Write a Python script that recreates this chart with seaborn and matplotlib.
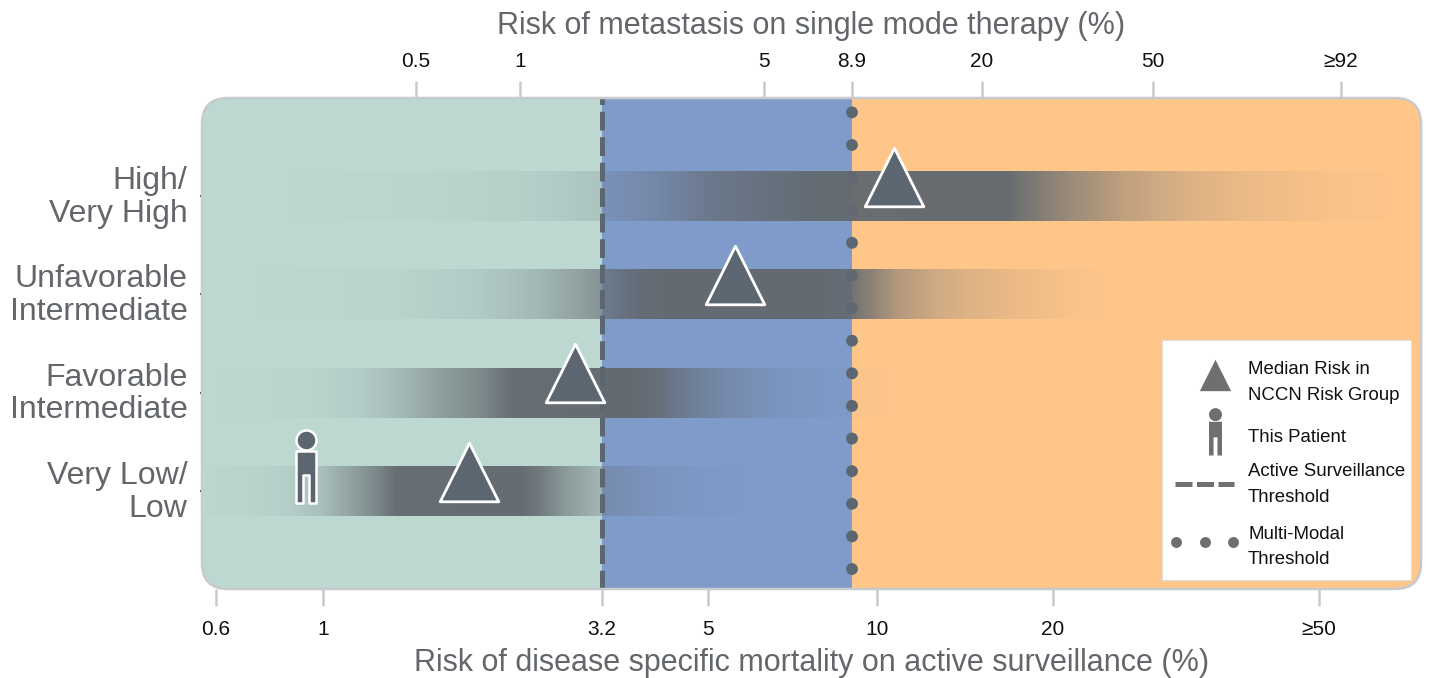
import numpy as np
import pandas as pd
import matplotlib
matplotlib.use("Agg")
import matplotlib.pyplot as plt
import seaborn as sns
from matplotlib.patches import FancyBboxPatch
from matplotlib.path import Path
from matplotlib.transforms import ScaledTranslation

# ---------- data ----------
groups = ["Very Low/\nLow", "Favorable\nIntermediate", "Unfavorable\nIntermediate", "High/\nVery High"]
median_risk = [1.84, 2.86, 5.58, 10.7]
patient_risk = 0.92
as_threshold = 3.2
mm_threshold = 9.02

bottom_ticks = [0.6, 1, 3.2, 5, 10, 20, 50]
bottom_labels = ["0.6", "1", "3.2", "5", "10", "20", "≥50"]
top_ticks = [0.5, 1, 5, 8.9, 20, 50, 92]
top_labels = ["0.5", "1", "5", "8.9", "20", "50", "≥92"]

vl_x = [0.57, 0.72, 0.86, 1.0, 1.105, 1.24, 1.36, 2.28, 2.46, 2.76, 3.17, 3.35, 4.07, 5.41, 6.53]
vl_a = [0.015, 0.04, 0.10, 0.23, 0.45, 0.70, 0.95, 0.97, 0.85, 0.55, 0.30, 0.27, 0.11, 0.03, 0.0]
fav_x = [0.59, 0.69, 0.96, 1.17, 1.36, 1.61, 1.92, 2.2, 3.69, 4.07, 4.73, 5.52, 6.66, 8.66, 11.2]
fav_a = [0.0, 0.01, 0.04, 0.11, 0.25, 0.50, 0.70, 0.95, 0.97, 0.85, 0.55, 0.30, 0.12, 0.03, 0.0]
unf_x = [0.706, 0.875, 1.32, 1.90, 2.43, 3.17, 3.68, 4.26, 7.91, 9.02, 9.71, 10.8, 12.6, 14.6, 18.3, 21.1, 24.5]
unf_a = [0.0, 0.01, 0.03, 0.12, 0.28, 0.60, 0.90, 0.97, 0.97, 0.90, 0.75, 0.50, 0.30, 0.20, 0.10, 0.04, 0.0]
high_x = [0.815, 0.98, 1.61, 2.43, 3.2, 3.92, 5.12, 7.82, 16.75, 19.8, 25.7, 31.4, 38.2, 49.9, 59.2, 67.4]
high_a = [0.0, 0.005, 0.03, 0.09, 0.18, 0.35, 0.70, 0.95, 0.97, 0.73, 0.40, 0.23, 0.13, 0.05, 0.02, 0.0]
profiles = [(vl_x, vl_a), (fav_x, fav_a), (unf_x, unf_a), (high_x, high_a)]

# ---------- style ----------
sns.set_theme(style="white")
plt.rcParams["font.family"] = ["Liberation Sans", "DejaVu Sans"]
W, H = 1430, 678
SLATE = "#5B6670"
BAND = "#62696F"
TXT = "#63676B"
GRN, BLU, ORG = "#BDD8D1", "#7F9BCA", "#FFC68A"
BORDER = "#C9CACD"

# axis scales: stretched log scales set by the tick positions of the figure
b_vals = np.log10([0.56, 0.6, 1, 3.2, 5, 10, 20, 50, 71])
b_pos = np.array([202, 216, 323, 602, 708, 877, 1053, 1319, 1421], float)
t_vals = np.log10([0.12, 0.5, 1, 5, 8.9, 20, 50, 92, 119])
t_pos = np.array([202, 416, 520, 764, 852, 982, 1153, 1341, 1421], float)


def make_scale(v, p):
    def fwd(x):
        return np.interp(np.log10(np.clip(x, 1e-6, None)), v, p)

    def inv(y):
        return 10 ** np.interp(y, p, v)

    return fwd, inv


fig = plt.figure(figsize=(W / 100, H / 100), dpi=100, facecolor="white")
ax = fig.add_axes([202 / W, (H - 589) / H, 1219 / W, 491 / H])
ax.set_facecolor("none")
ax.set_xscale("function", functions=make_scale(b_vals, b_pos))
ax.set_xlim(0.56, 71)
ax.set_ylim(-1, 4)

box = FancyBboxPatch((0, 0), 1, 1, boxstyle="round,pad=0,rounding_size=%f" % (26 / 1219),
                     mutation_aspect=1219 / 491, transform=ax.transAxes,
                     facecolor="none", edgecolor="none")
ax.add_patch(box)
for lo, hi, c in [(0.56, as_threshold, GRN), (as_threshold, mm_threshold, BLU), (mm_threshold, 71, ORG)]:
    sp = ax.axvspan(lo, hi, color=c, lw=0, zorder=0)
    sp.set_clip_path(box)

# multi-modal threshold dots sit under the gradient bands
ax.plot([mm_threshold, mm_threshold], [-1, 4], color=SLATE, lw=8.6, zorder=1,
        linestyle=(1.06, (0.001, 2.73)), dash_capstyle="round", clip_on=False)

# gradient bands
edges = np.geomspace(0.56, 71, 900)
mids = np.sqrt(edges[:-1] * edges[1:])
rgb = matplotlib.colors.to_rgb(BAND)
for row, (sx, sa) in enumerate(profiles):
    al = np.interp(np.log10(mids), np.log10(sx), sa, left=0, right=0)
    rgba = np.zeros((1, len(mids), 4))
    rgba[..., :3] = rgb
    rgba[..., 3] = al
    ax.pcolormesh(edges, [row - 0.255, row + 0.255], rgba, zorder=2, antialiased=False,
                  linewidth=0, edgecolor="none")

# active-surveillance threshold
ax.plot([as_threshold, as_threshold], [-1, 4], color=SLATE, lw=3.6, zorder=3,
        linestyle=(5.1, (3.75, 1.35)), dash_capstyle="butt")

# medians and patient
df = pd.DataFrame({"risk": median_risk, "row": np.arange(4) + 0.195})
sns.scatterplot(data=df, x="risk", y="row", marker="^", s=1780, color=SLATE, edgecolor="white",
                linewidth=2.0, ax=ax, zorder=4, legend=False)
head = Path.circle((0, 26), 10)
body = Path([(-10, 15), (10, 15), (10, -37), (3, -37), (3, -9), (-3, -9), (-3, -37), (-10, -37), (-10, 15)],
            [Path.MOVETO] + [Path.LINETO] * 7 + [Path.CLOSEPOLY])
person = Path.make_compound_path(head, body)
ax.scatter([patient_risk], [0.25], marker=person, s=2840, color=SLATE, edgecolor="white",
           linewidth=1.8, zorder=4)

# axes
for s in ax.spines.values():
    s.set_visible(False)
ax.set_xticks(bottom_ticks, bottom_labels)
ax.minorticks_off()
ax.tick_params(axis="x", which="major", bottom=True, length=12, width=1.8, color=BORDER, labelcolor="#111111",
               labelsize=15, pad=10.5)
ax.set_yticks(range(4), groups)
ax.tick_params(axis="y", left=True, length=1.5, width=1.5, color="#444444", labelcolor=TXT, labelsize=23, pad=9)
lift = ScaledTranslation(0, 2.5 / 72, fig.dpi_scale_trans)
for t in ax.get_yticklabels():
    t.set_linespacing(1.12)
    t.set_transform(t.get_transform() + lift)
ax.set_xlabel("Risk of disease specific mortality on active surveillance (%)", fontsize=22, color=TXT, labelpad=6)
ax.set_ylabel("")

ax2 = ax.twiny()
ax2.set_xscale("function", functions=make_scale(t_vals, t_pos))
ax2.set_xlim(0.12, 119)
for s in ax2.spines.values():
    s.set_visible(False)
ax2.set_xticks(top_ticks, top_labels)
ax2.minorticks_off()
ax2.tick_params(axis="x", which="major", top=True, bottom=False, labeltop=True, labelbottom=False, length=12,
                width=1.8, color=BORDER, labelcolor="#111111", labelsize=15, pad=7.3)
ax2.xaxis.set_label_position("top")
ax2.set_xlabel("Risk of metastasis on single mode therapy (%)", fontsize=22, color=TXT, labelpad=13.2)

# border of the rounded panel
ax2.add_patch(FancyBboxPatch((0, 0), 1, 1, boxstyle="round,pad=0,rounding_size=%f" % (26 / 1219),
                             mutation_aspect=1219 / 491, transform=ax.transAxes, facecolor="none",
                             edgecolor=BORDER, lw=1.8, clip_on=False, zorder=6))

# legend key panel
lg = ax2.inset_axes([(1162 - 202) / 1219, 9 / 491, 249 / 1219, 240 / 491], zorder=10)
lg.set_xlim(1162, 1411)
lg.set_ylim(580, 340)
lg.set_xticks([])
lg.set_yticks([])
lg.set_facecolor("white")
for s in lg.spines.values():
    s.set_color("#DDDDDD")
    s.set_linewidth(0.8)
KEY = "#6F6F6F"
lg.scatter([1215], [375], marker="^", s=510, color=KEY, linewidth=0)
lg.scatter([1215], [431], marker=person, s=1195, color=KEY, linewidth=0)
lg.plot([1175, 1234], [484, 484], color=KEY, lw=3.6, linestyle=(0, (3.4, 0.9)))
lg.scatter([1176, 1205, 1233], [542, 542, 542], s=62, color=KEY, linewidth=0)
for y, s in [(369, "Median Risk in"), (395, "NCCN Risk Group"), (437, "This Patient"),
             (471, "Active Surveillance"), (497, "Threshold"), (534, "Multi-Modal"), (559, "Threshold")]:
    lg.text(1248, y, s, fontsize=13.4, color="#111111", va="center", ha="left")

fig.savefig("out.png", dpi=100)
